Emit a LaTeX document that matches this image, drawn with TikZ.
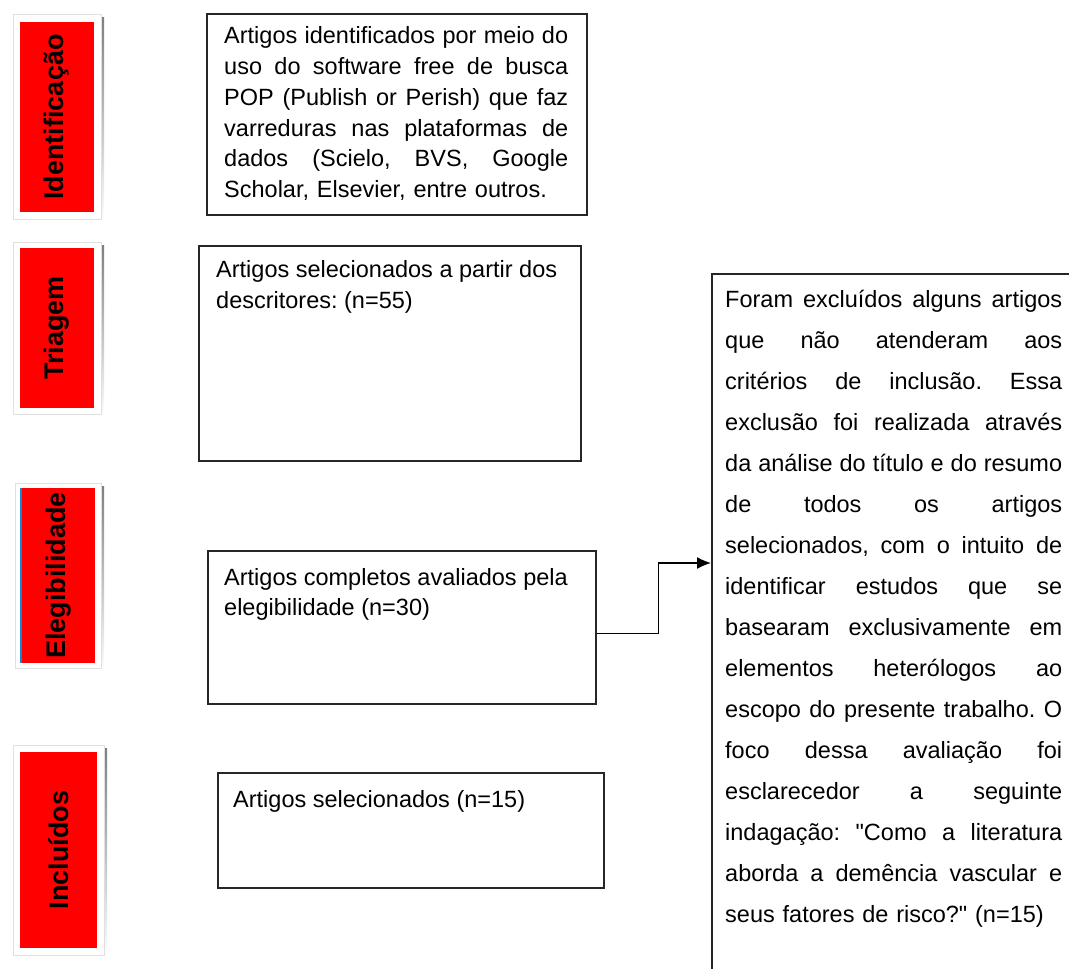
\documentclass[tikz,border=0pt]{standalone}
\usepackage{fontspec}
\setmainfont{Liberation Sans}
\usetikzlibrary{arrows.meta}
\definecolor{barred}{RGB}{255,0,0}
\definecolor{shade}{RGB}{172,174,166}
\newcommand{\fullline}[1]{\noindent\hbox to\hsize{\spaceskip=0.278em plus 1fill minus 0.08em\relax #1}}
\frenchspacing

\begin{document}
\begin{tikzpicture}[x=1pt,y=-1pt,
  box/.style={draw=black!85, line width=1.5pt, anchor=north west, inner sep=0pt},
  boxtext/.style={anchor=north west, inner sep=0pt, align=left,
    font=\fontsize{23.5}{29}\selectfont},
  frame/.style={fill=white, draw=black!12, line width=0.8pt},
  barname/.style={rotate=90, fill=barred, inner sep=0pt,
    font=\fontsize{27}{30}\selectfont\bfseries}]
\useasboundingbox (0,0) rectangle (1069,969);

% phase bars
\fill[shade] (16,17) rectangle (104,222);
\draw[frame] (13,14) rectangle (101,219);
\node[barname, minimum width=190, minimum height=74] (idt) at (57,117) {Identificação};

\fill[shade] (16,245) rectangle (104,417);
\draw[frame] (13,242) rectangle (101,414);
\node[barname, minimum width=160, minimum height=74] (trg) at (57,328) {Triagem};

\fill[shade] (18,486) rectangle (104,671);
\draw[frame] (15,483) rectangle (101,668);
\node[barname, minimum width=175, minimum height=73] (elg) at (58.5,575.5) {Elegibilidade};
\draw[cyan!70!blue, line width=1.5pt] (21,488) -- (21,663);

\fill[shade] (16,748) rectangle (107,958);
\draw[frame] (13,745) rectangle (104,955);
\node[barname, minimum width=196, minimum height=77] (inc) at (58.5,850) {Incluídos};

% boxes
\node[box, minimum width=380, minimum height=201] (idtbox) at (206,13) {};
\node[boxtext, text width=344, font=\fontsize{23.5}{30.8}\selectfont] (idttext) at (224,26.5) {%
  \fullline{Artigos identificados por meio do}\\
  \fullline{uso do software free de busca}\\
  \fullline{POP (Publish or Perish) que faz}\\
  \fullline{varreduras nas plataformas de}\\
  \fullline{dados (Scielo, BVS, Google}\\
  Scholar, Elsevier, entre outros.};

\node[box, minimum width=382, minimum height=215] (trgbox) at (198,245) {};
\node[boxtext, font=\fontsize{23.5}{31}\selectfont] (trgtext) at (216,260)
  {Artigos selecionados a partir dos\\descritores: (n=55)};

\node[box, minimum width=388, minimum height=153] (elgbox) at (207,550) {};
\node[boxtext, font=\fontsize{23.5}{30}\selectfont] (elgtext) at (224,568)
  {Artigos completos avaliados pela\\elegibilidade (n=30)};

\node[box, minimum width=386, minimum height=115] (incbox) at (217,772) {};
\node[boxtext] (inctext) at (233,790) {Artigos selecionados (n=15)};

\node[box, minimum width=370, minimum height=740] (excbox) at (711,273) {};
\node[boxtext, text width=337, font=\fontsize{23.5}{41}\selectfont] (exctext) at (725,290) {%
  \fullline{Foram excluídos alguns artigos}\\
  \fullline{que não atenderam aos}\\
  \fullline{critérios de inclusão. Essa}\\
  \fullline{exclusão foi realizada através}\\
  \fullline{da análise do título e do resumo}\\
  \fullline{de todos os artigos}\\
  \fullline{selecionados, com o intuito de}\\
  \fullline{identificar estudos que se}\\
  \fullline{basearam exclusivamente em}\\
  \fullline{elementos heterólogos ao}\\
  \fullline{escopo do presente trabalho. O}\\
  \fullline{foco dessa avaliação foi}\\
  \fullline{esclarecedor a seguinte}\\
  \fullline{indagação: \textquotedbl Como a literatura}\\
  \fullline{aborda a demência vascular e}\\
  seus fatores de risco?\textquotedbl{} (n=15)};

% connector
\draw[line width=1.3pt, -{Latex[length=14,width=12]}]
  ([yshift=-6pt]elgbox.east) -- ++(62,0) |- ([yshift=-290pt]excbox.north west);
\end{tikzpicture}
\end{document}
